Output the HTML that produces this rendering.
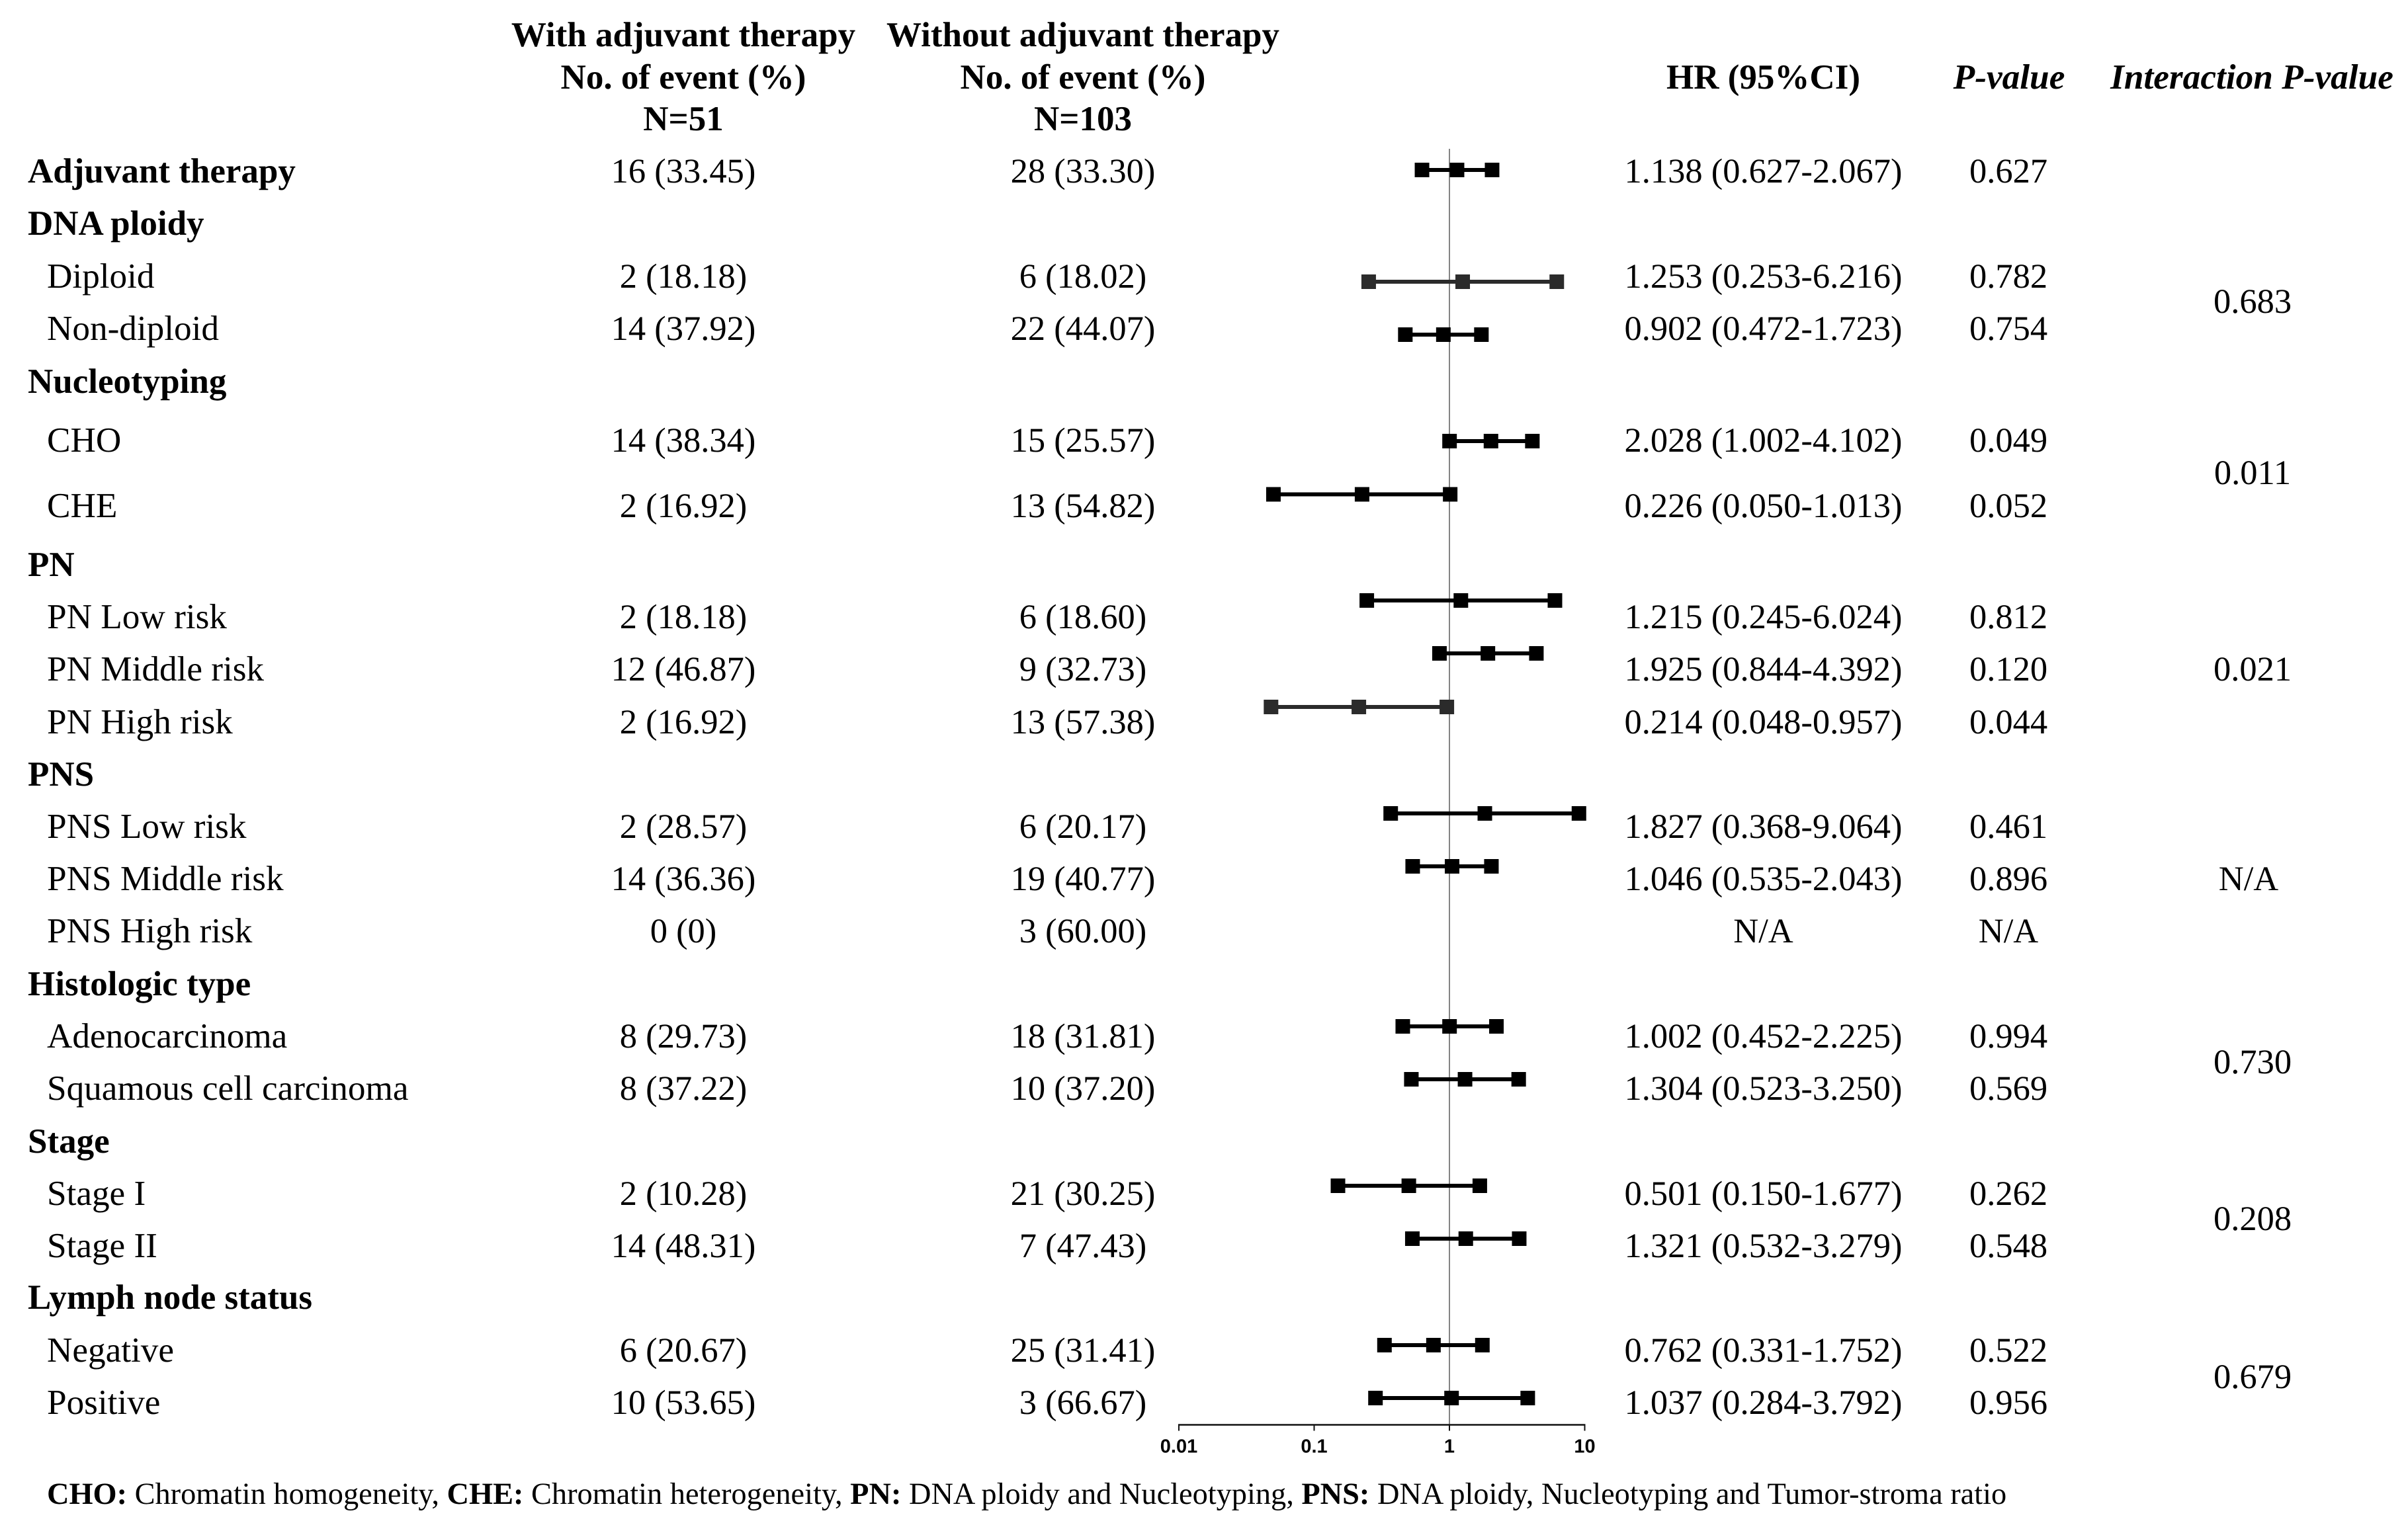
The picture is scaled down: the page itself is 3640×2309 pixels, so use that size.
<!DOCTYPE html>
<html lang="en">
<head>
<meta charset="utf-8">
<title>Forest plot of adjuvant therapy subgroups</title>
<style>
html,body{margin:0;padding:0;background:#fff;width:3640px;height:2309px;overflow:hidden}
svg{display:block}
text{font-family:"Liberation Serif",serif;font-size:52.5px;fill:#000;text-rendering:geometricPrecision}
.c{text-anchor:middle}
.b{font-weight:bold;font-size:53px}
.i{font-style:italic;font-weight:bold;font-size:53.3px}
#row-labels text{font-size:53.2px}
#row-labels text.b{font-size:53px}
text.foot{font-size:46.35px}
.foot tspan.b{font-size:46.35px}
text.tick-label{font-family:"Liberation Sans",sans-serif;font-weight:bold;font-size:29px;text-anchor:middle}
</style>
</head>
<body>
<svg id="chart" xmlns="http://www.w3.org/2000/svg" width="3640" height="2309" viewBox="0 0 3640 2309">
<rect width="3640" height="2309" fill="#fff"/>

<g>
<text class="c b" x="1033" y="70">With adjuvant therapy</text>
<text class="c b" x="1033" y="134">No. of event (%)</text>
<text class="c b" x="1033" y="197">N=51</text>
<text class="c b" x="1637" y="70">Without adjuvant therapy</text>
<text class="c b" x="1637" y="134">No. of event (%)</text>
<text class="c b" x="1637" y="197">N=103</text>
<text class="c b" x="2665.5" y="134">HR (95%CI)</text>
<text class="c i" x="3037" y="134">P-value</text>
<text class="c i" x="3404" y="134">Interaction P-value</text>
</g>

<g id="row-labels">
<text class="b" x="42" y="276">Adjuvant therapy</text>
<text class="b" x="42" y="355">DNA ploidy</text>
<text x="71" y="435">Diploid</text>
<text x="71" y="514">Non-diploid</text>
<text class="b" x="42" y="594">Nucleotyping</text>
<text x="71" y="683">CHO</text>
<text x="71" y="782">CHE</text>
<text class="b" x="42" y="871">PN</text>
<text x="71" y="950">PN Low risk</text>
<text x="71" y="1029">PN Middle risk</text>
<text x="71" y="1109">PN High risk</text>
<text class="b" x="42" y="1188">PNS</text>
<text x="71" y="1267">PNS Low risk</text>
<text x="71" y="1346">PNS Middle risk</text>
<text x="71" y="1425">PNS High risk</text>
<text class="b" x="42" y="1505">Histologic type</text>
<text x="71" y="1584">Adenocarcinoma</text>
<text x="71" y="1663">Squamous cell carcinoma</text>
<text class="b" x="42" y="1743">Stage</text>
<text x="71" y="1822">Stage I</text>
<text x="71" y="1901">Stage II</text>
<text class="b" x="42" y="1979">Lymph node status</text>
<text x="71" y="2059">Negative</text>
<text x="71" y="2138">Positive</text>
</g>

<g>
<text class="c" x="1033" y="276">16 (33.45)</text>
<text class="c" x="1033" y="435">2 (18.18)</text>
<text class="c" x="1033" y="514">14 (37.92)</text>
<text class="c" x="1033" y="683">14 (38.34)</text>
<text class="c" x="1033" y="782">2 (16.92)</text>
<text class="c" x="1033" y="950">2 (18.18)</text>
<text class="c" x="1033" y="1029">12 (46.87)</text>
<text class="c" x="1033" y="1109">2 (16.92)</text>
<text class="c" x="1033" y="1267">2 (28.57)</text>
<text class="c" x="1033" y="1346">14 (36.36)</text>
<text class="c" x="1033" y="1425">0 (0)</text>
<text class="c" x="1033" y="1584">8 (29.73)</text>
<text class="c" x="1033" y="1663">8 (37.22)</text>
<text class="c" x="1033" y="1822">2 (10.28)</text>
<text class="c" x="1033" y="1901">14 (48.31)</text>
<text class="c" x="1033" y="2059">6 (20.67)</text>
<text class="c" x="1033" y="2138">10 (53.65)</text>
</g>

<g>
<text class="c" x="1637" y="276">28 (33.30)</text>
<text class="c" x="1637" y="435">6 (18.02)</text>
<text class="c" x="1637" y="514">22 (44.07)</text>
<text class="c" x="1637" y="683">15 (25.57)</text>
<text class="c" x="1637" y="782">13 (54.82)</text>
<text class="c" x="1637" y="950">6 (18.60)</text>
<text class="c" x="1637" y="1029">9 (32.73)</text>
<text class="c" x="1637" y="1109">13 (57.38)</text>
<text class="c" x="1637" y="1267">6 (20.17)</text>
<text class="c" x="1637" y="1346">19 (40.77)</text>
<text class="c" x="1637" y="1425">3 (60.00)</text>
<text class="c" x="1637" y="1584">18 (31.81)</text>
<text class="c" x="1637" y="1663">10 (37.20)</text>
<text class="c" x="1637" y="1822">21 (30.25)</text>
<text class="c" x="1637" y="1901">7 (47.43)</text>
<text class="c" x="1637" y="2059">25 (31.41)</text>
<text class="c" x="1637" y="2138">3 (66.67)</text>
</g>

<g>
<text class="c" x="2665.5" y="276">1.138 (0.627-2.067)</text>
<text class="c" x="2665.5" y="435">1.253 (0.253-6.216)</text>
<text class="c" x="2665.5" y="514">0.902 (0.472-1.723)</text>
<text class="c" x="2665.5" y="683">2.028 (1.002-4.102)</text>
<text class="c" x="2665.5" y="782">0.226 (0.050-1.013)</text>
<text class="c" x="2665.5" y="950">1.215 (0.245-6.024)</text>
<text class="c" x="2665.5" y="1029">1.925 (0.844-4.392)</text>
<text class="c" x="2665.5" y="1109">0.214 (0.048-0.957)</text>
<text class="c" x="2665.5" y="1267">1.827 (0.368-9.064)</text>
<text class="c" x="2665.5" y="1346">1.046 (0.535-2.043)</text>
<text class="c" x="2665.5" y="1425">N/A</text>
<text class="c" x="2665.5" y="1584">1.002 (0.452-2.225)</text>
<text class="c" x="2665.5" y="1663">1.304 (0.523-3.250)</text>
<text class="c" x="2665.5" y="1822">0.501 (0.150-1.677)</text>
<text class="c" x="2665.5" y="1901">1.321 (0.532-3.279)</text>
<text class="c" x="2665.5" y="2059">0.762 (0.331-1.752)</text>
<text class="c" x="2665.5" y="2138">1.037 (0.284-3.792)</text>
</g>

<g>
<text class="c" x="3036" y="276">0.627</text>
<text class="c" x="3036" y="435">0.782</text>
<text class="c" x="3036" y="514">0.754</text>
<text class="c" x="3036" y="683">0.049</text>
<text class="c" x="3036" y="782">0.052</text>
<text class="c" x="3036" y="950">0.812</text>
<text class="c" x="3036" y="1029">0.120</text>
<text class="c" x="3036" y="1109">0.044</text>
<text class="c" x="3036" y="1267">0.461</text>
<text class="c" x="3036" y="1346">0.896</text>
<text class="c" x="3036" y="1425">N/A</text>
<text class="c" x="3036" y="1584">0.994</text>
<text class="c" x="3036" y="1663">0.569</text>
<text class="c" x="3036" y="1822">0.262</text>
<text class="c" x="3036" y="1901">0.548</text>
<text class="c" x="3036" y="2059">0.522</text>
<text class="c" x="3036" y="2138">0.956</text>
</g>

<g>
<text class="c" x="3405" y="473">0.683</text>
<text class="c" x="3405" y="732">0.011</text>
<text class="c" x="3405" y="1029">0.021</text>
<text class="c" x="3399" y="1346">N/A</text>
<text class="c" x="3405" y="1623">0.730</text>
<text class="c" x="3405" y="1860">0.208</text>
<text class="c" x="3405" y="2099">0.679</text>
</g>

<g id="axis"></g>

<g id="forest">
<g class="forest-row" data-category="Adjuvant therapy" transform="translate(0 257)"></g>
<g class="forest-row" data-category="Diploid" transform="translate(0 426)"></g>
<g class="forest-row" data-category="Non-diploid" transform="translate(0 506)"></g>
<g class="forest-row" data-category="CHO" transform="translate(0 667)"></g>
<g class="forest-row" data-category="CHE" transform="translate(0 747.5)"></g>
<g class="forest-row" data-category="PN Low risk" transform="translate(0 908)"></g>
<g class="forest-row" data-category="PN Middle risk" transform="translate(0 988)"></g>
<g class="forest-row" data-category="PN High risk" transform="translate(0 1069)"></g>
<g class="forest-row" data-category="PNS Low risk" transform="translate(0 1230)"></g>
<g class="forest-row" data-category="PNS Middle risk" transform="translate(0 1310)"></g>
<g class="forest-row" data-category="Adenocarcinoma" transform="translate(0 1552)"></g>
<g class="forest-row" data-category="Squamous cell carcinoma" transform="translate(0 1632)"></g>
<g class="forest-row" data-category="Stage I" transform="translate(0 1793)"></g>
<g class="forest-row" data-category="Stage II" transform="translate(0 1873)"></g>
<g class="forest-row" data-category="Negative" transform="translate(0 2034)"></g>
<g class="forest-row" data-category="Positive" transform="translate(0 2114)"></g>
</g>

<text class="foot" x="71" y="2274"><tspan class="b">CHO:</tspan> Chromatin homogeneity, <tspan class="b">CHE:</tspan> Chromatin heterogeneity, <tspan class="b">PN:</tspan> DNA ploidy and Nucleotyping, <tspan class="b">PNS:</tspan> DNA ploidy, Nucleotyping and Tumor-stroma ratio</text>
</svg>

<script>
const categories = ["Adjuvant therapy","Diploid","Non-diploid","CHO","CHE","PN Low risk","PN Middle risk","PN High risk","PNS Low risk","PNS Middle risk","Adenocarcinoma","Squamous cell carcinoma","Stage I","Stage II","Negative","Positive"];
const hrValues = [1.138,1.253,0.902,2.028,0.226,1.215,1.925,0.214,1.827,1.046,1.002,1.304,0.501,1.321,0.762,1.037];
const ciLower = [0.627,0.253,0.472,1.002,0.050,0.245,0.844,0.048,0.368,0.535,0.452,0.523,0.150,0.532,0.331,0.284];
const ciUpper = [2.067,6.216,1.723,4.102,1.013,6.024,4.392,0.957,9.064,2.043,2.225,3.250,1.677,3.279,1.752,3.792];
const tickValues = [0.01,0.1,1,10];
const tickLabels = ["0.01","0.1","1","10"];
const greyRows = ["Diploid","PN High risk"];

const NS = "http://www.w3.org/2000/svg";
const AXIS_Y = 2154.5;
const REF_TOP = 225;
const MARK = 22;
const xScale = function (v) { return 2191 + 204.5 * Math.log10(v); };

function shape(parent, tag, attrs) {
  const el = document.createElementNS(NS, tag);
  Object.keys(attrs).forEach(function (k) { el.setAttribute(k, attrs[k]); });
  parent.appendChild(el);
  return el;
}

const axis = document.getElementById("axis");
const refLine = shape(axis, "line", {x1: xScale(1), x2: xScale(1), y1: REF_TOP, y2: AXIS_Y, stroke: "#777", "stroke-width": 1.8});


const axisLine = shape(axis, "line", {x1: xScale(tickValues[0]) - 1, x2: xScale(tickValues[tickValues.length - 1]) + 1, y1: AXIS_Y, y2: AXIS_Y, stroke: "#111", "stroke-width": 2.4});



tickValues.forEach(function (v, i) {
  const t = shape(axis, "line", {x1: xScale(v), x2: xScale(v), y1: AXIS_Y, y2: AXIS_Y + 9, stroke: "#111", "stroke-width": 2});
  
  
  const lab = shape(axis, "text", {x: xScale(v), y: AXIS_Y + 42, "class": "tick-label"});
  
  
  lab.textContent = tickLabels[i];
});

document.querySelectorAll(".forest-row").forEach(function (row) {
  const i = categories.indexOf(row.getAttribute("data-category"));
  const color = greyRows.indexOf(categories[i]) >= 0 ? "#2b2b2b" : "#000";
  const ci = shape(row, "line", {x1: xScale(ciLower[i]), x2: xScale(ciUpper[i]), y1: 0, y2: 0, stroke: color, "stroke-width": 6});
  
  
  const lo = shape(row, "rect", {x: xScale(ciLower[i]) - MARK / 2, y: -MARK / 2, width: MARK, height: MARK, fill: color});
  
  
  const hr = shape(row, "rect", {x: xScale(hrValues[i]) - MARK / 2, y: -MARK / 2, width: MARK, height: MARK, fill: color});
  
  
  const hi = shape(row, "rect", {x: xScale(ciUpper[i]) - MARK / 2, y: -MARK / 2, width: MARK, height: MARK, fill: color});
  
  
});
</script>
</body>
</html>
